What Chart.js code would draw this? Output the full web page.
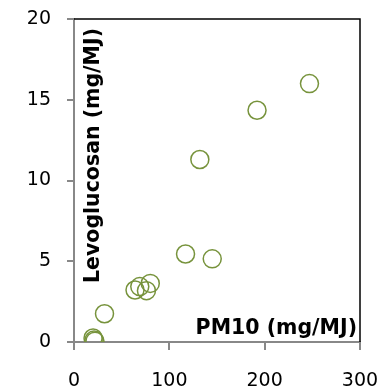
<!DOCTYPE html>
<html>
<head>
<meta charset="utf-8">
<script src="https://cdn.jsdelivr.net/npm/chart.js@4/dist/chart.umd.min.js"></script>
<style>
  html, body { margin: 0; padding: 0; background: #fff; }
  #wrap { width: 392px; height: 387px; }
</style>
</head>
<body>
<div id="wrap"><canvas id="c" width="392" height="387"></canvas></div>
<script>
const pm10 = [247, 192, 132, 145, 117, 80, 76, 69, 64, 32, 20, 21, 22];
const levoglucosan = [16.0, 14.35, 11.3, 5.15, 5.45, 3.63, 3.18, 3.43, 3.22, 1.75, 0.25, 0.12, 0.05];
const xTicks = [0, 100, 200, 300];
const yTicks = [0, 5, 10, 15, 20];
const xTitle = 'PM10 (mg/MJ)';
const yTitle = 'Levoglucosan (mg/MJ)';

const points = pm10.map((x, i) => ({ x: x, y: levoglucosan[i] }));
const GREEN = '#77933C';
const GRAY = '#888888';

const framePlugin = {
  id: 'frame',
  afterDraw(chart) {
    const ctx = chart.ctx, a = chart.chartArea;
    ctx.save();
    ctx.strokeStyle = '#000';
    ctx.lineWidth = 1.5;
    ctx.beginPath();
    ctx.moveTo(a.left, a.top);
    ctx.lineTo(a.right, a.top);
    ctx.lineTo(a.right, a.bottom);
    ctx.stroke();
    ctx.fillStyle = '#000';
    ctx.font = 'bold 20.5px "DejaVu Sans"';
    ctx.textBaseline = 'alphabetic';
    ctx.textAlign = 'right';
    ctx.fillText(xTitle, a.right - 3, a.bottom - 8);
    ctx.translate(a.left + 25, (a.top + a.bottom) / 2 - 25);
    ctx.rotate(-Math.PI / 2);
    ctx.textAlign = 'center';
    ctx.fillText(yTitle, 0, 0);
    ctx.restore();
  }
};

function zeroPad(s) { s.paddingTop = 0; s.paddingBottom = 0; s.paddingLeft = 0; s.paddingRight = 0; }

new Chart(document.getElementById('c'), {
  type: 'scatter',
  data: {
    datasets: [{
      data: points,
      pointStyle: 'circle',
      pointRadius: 9,
      pointBorderWidth: 1.5,
      pointBorderColor: GREEN,
      pointBackgroundColor: 'rgba(0,0,0,0)',
      borderColor: GREEN,
      backgroundColor: 'rgba(0,0,0,0)'
    }]
  },
  options: {
    responsive: false,
    animation: false,
    events: [],
    layout: { padding: { top: 19, right: 32, left: 0, bottom: 0 } },
    plugins: { legend: { display: false }, tooltip: { enabled: false } },
    scales: {
      x: {
        type: 'linear',
        min: 0, max: 300,
        afterBuildTicks(s) { s.ticks = xTicks.map(v => ({ value: v })); },
        afterFit(s) { s.height = 45; zeroPad(s); },
        ticks: { color: '#000', font: { family: 'DejaVu Sans', size: 19 }, padding: 20, maxRotation: 0 },
        grid: { display: true, drawOnChartArea: false, drawTicks: true, tickLength: 8, color: GRAY, lineWidth: 2 },
        border: { display: true, color: GRAY, width: 2 }
      },
      y: {
        type: 'linear',
        min: 0, max: 20,
        afterBuildTicks(s) { s.ticks = yTicks.map(v => ({ value: v })); },
        afterFit(s) { s.width = 74; zeroPad(s); },
        ticks: { color: '#000', font: { family: 'DejaVu Sans', size: 19 }, padding: 16 },
        grid: { display: true, drawOnChartArea: false, drawTicks: true, tickLength: 7, color: GRAY, lineWidth: 2 },
        border: { display: true, color: GRAY, width: 2 }
      }
    }
  },
  plugins: [framePlugin]
});
</script>
</body>
</html>
